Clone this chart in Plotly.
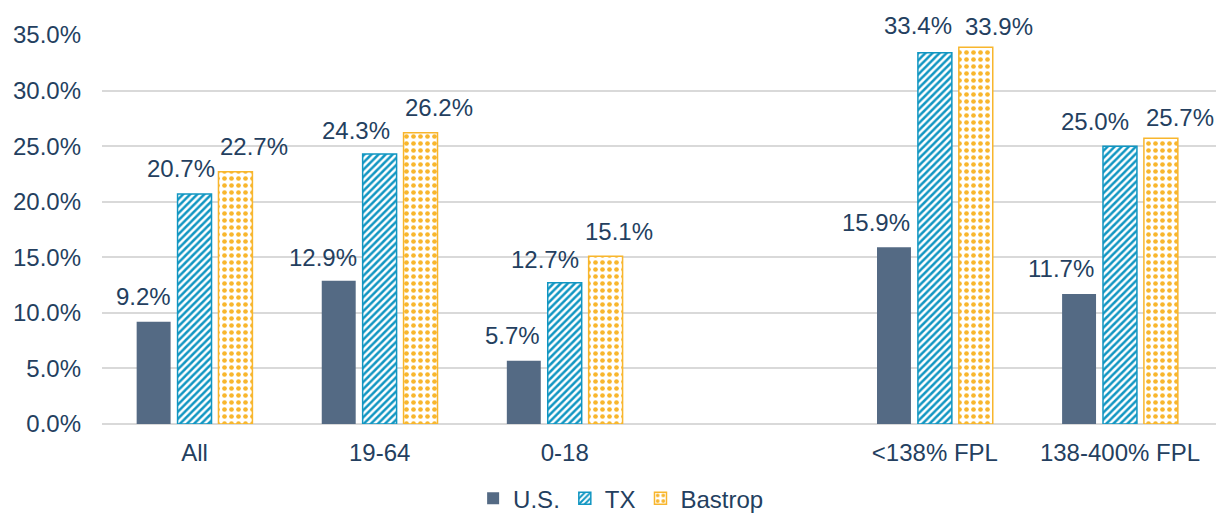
import plotly.graph_objects as go

categories = ["All", "19-64", "0-18", " ", "<138% FPL", "138-400% FPL"]
us = [9.2, 12.9, 5.7, None, 15.9, 11.7]
tx = [20.7, 24.3, 12.7, None, 33.4, 25.0]
bastrop = [22.7, 26.2, 15.1, None, 33.9, 25.7]
y_ticks = [0, 5, 10, 15, 20, 25, 30, 35]

# label nudges (px) reproducing the original's value-label placement
nudge_x_us = [-10, -16, -11, 0, -18, -18]
nudge_x_tx = [-14, -24, -20, 0, -17, -25]
nudge_x_ba = [18, 18, 13, 0, 23, 19]
nudge_y_us = [0, -2, 0, 0, 0, 0]
nudge_y_tx = [0, -2, -2, 0, 2, 0]
nudge_y_ba = [0, 0, 0, 0, -4, -4]

TEXT = "#243F5F"
FONT = "Liberation Sans, Arial, sans-serif"
FS = 24
W, H = 1219, 513
ML, MR, MT, MB = 102, 3, 35, 89
BARGAP, GROUPGAP = 0.337, 0.17

fig = go.Figure()
fig.add_trace(go.Bar(
    name="U.S.", x=categories, y=us,
    marker=dict(color="#546A84", line=dict(width=0)),
))
fig.add_trace(go.Bar(
    name="TX", x=categories, y=tx,
    marker=dict(color="#FFFFFF", line=dict(color="#1196C2", width=1.5),
                pattern=dict(shape="/", fgcolor="#1196C2", bgcolor="#FFFFFF",
                             size=5, solidity=0.5, fillmode="replace")),
))
fig.add_trace(go.Bar(
    name="Bastrop", x=categories, y=bastrop,
    marker=dict(color="#FFFFFF", line=dict(color="#F8B62D", width=1.5),
                pattern=dict(shape=".", fgcolor="#F8B62D", bgcolor="#FFFFFF",
                             size=7, solidity=0.35, fillmode="replace")),
))

cat_px = (W - ML - MR) / len(categories)
slot_px = cat_px * (1 - BARGAP) / 3
series = [(us, nudge_x_us, nudge_y_us), (tx, nudge_x_tx, nudge_y_tx),
          (bastrop, nudge_x_ba, nudge_y_ba)]
for i, (vals, nx, ny) in enumerate(series):
    for c, v, dx, dy in zip(categories, vals, nx, ny):
        if v is None:
            continue
        fig.add_annotation(x=c, y=v, xref="x", yref="y", text=f"{v:.1f}%",
                           showarrow=False, xanchor="center", yanchor="middle",
                           xshift=(i - 1) * slot_px + dx, yshift=25 + dy,
                           font=dict(size=FS, color=TEXT, family=FONT))

fig.update_layout(
    width=W, height=H,
    margin=dict(l=ML, r=MR, t=MT, b=MB),
    paper_bgcolor="white", plot_bgcolor="white",
    barmode="group", bargap=BARGAP, bargroupgap=GROUPGAP,
    font=dict(family=FONT, size=FS, color=TEXT),
    showlegend=True,
    legend=dict(orientation="h", x=0.466, xanchor="center",
                yref="container", y=0.028, yanchor="middle",
                font=dict(size=FS, color=TEXT, family=FONT), traceorder="normal",
                itemwidth=30, tracegroupgap=0),
    xaxis=dict(type="category", categoryorder="array", categoryarray=categories,
               showgrid=False, showline=False, ticks="", ticklabelstandoff=12,
               tickfont=dict(size=FS)),
    yaxis=dict(range=[0, 35], tickvals=y_ticks, ticktext=[f"{v:.1f}%" for v in y_ticks],
               showgrid=True, gridcolor="#D9D9D9", gridwidth=1.5,
               zeroline=True, zerolinecolor="#D9D9D9", zerolinewidth=1.5,
               showline=False, ticks="", ticklabelstandoff=20, tickfont=dict(size=FS)),
)

fig.write_html("out.html", config={"displayModeBar": False},
               post_script="document.body.style.margin='0';document.body.style.overflow='hidden';")
